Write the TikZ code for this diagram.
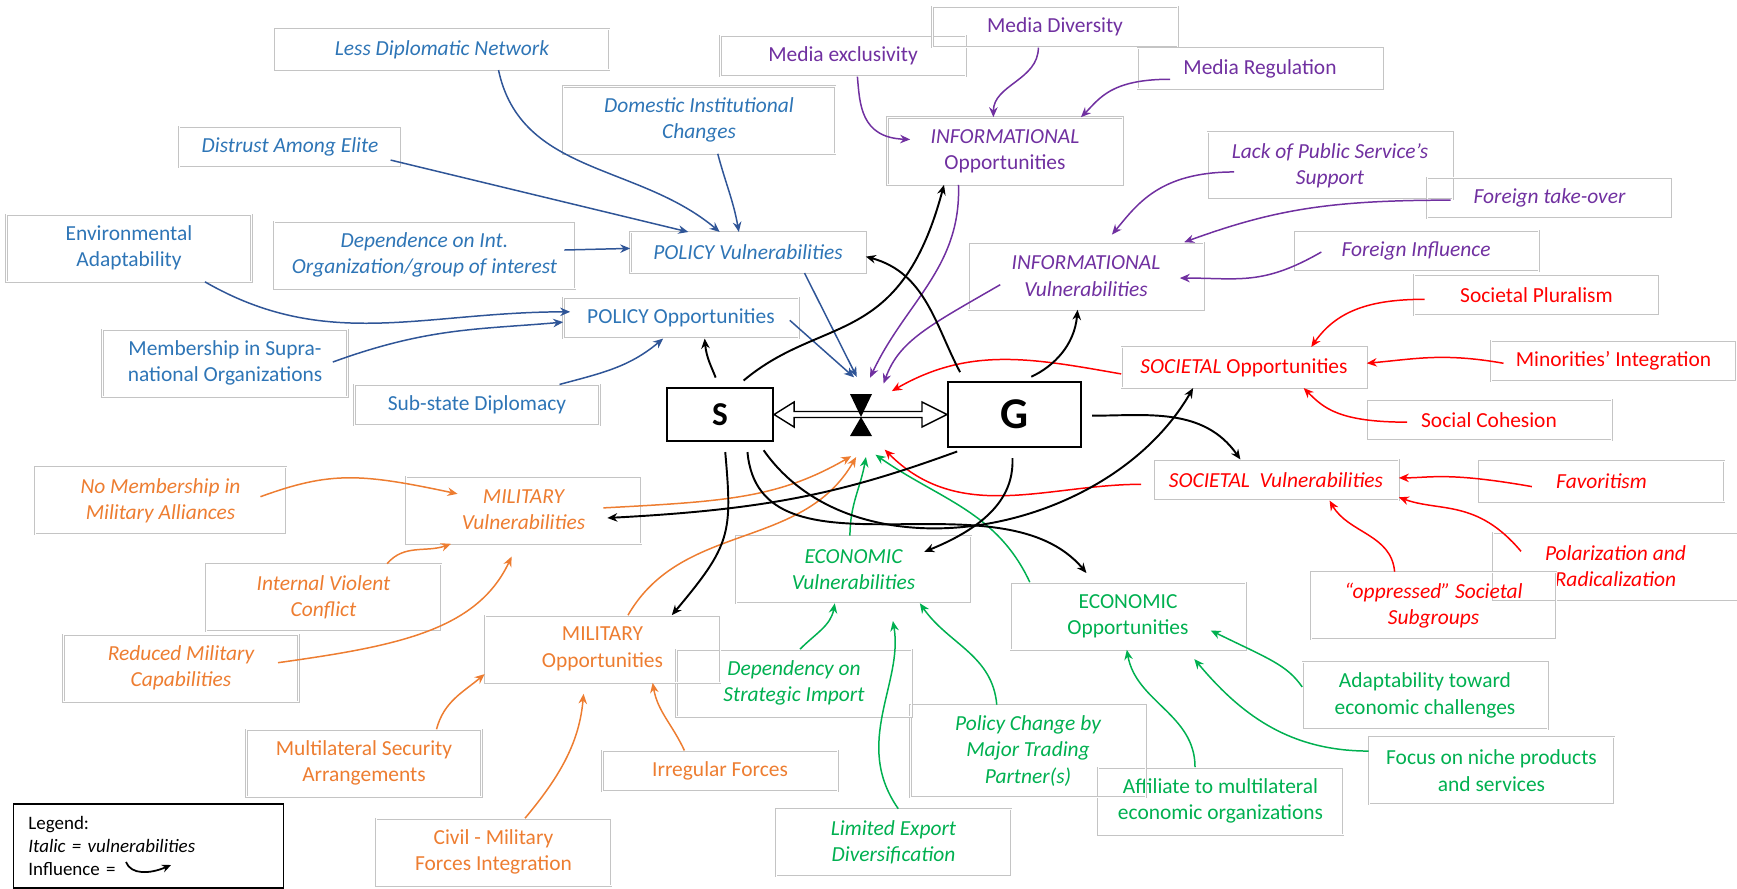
\documentclass[tikz,border=0pt]{standalone}
\usepackage{fontspec}
\setmainfont{Carlito}
\usetikzlibrary{arrows.meta,calc}

\definecolor{boxgray}{HTML}{C4C4C4}
\definecolor{polline}{HTML}{2F5597}
\definecolor{poltext}{HTML}{2E75B6}
\definecolor{infcol}{HTML}{7030A0}
\definecolor{soccol}{HTML}{FF0000}
\definecolor{milcol}{HTML}{ED7D31}
\definecolor{ecocol}{HTML}{00B050}
\newcommand{\diagfont}{\fontsize{12.2}{15}\selectfont}

\begin{document}
\begin{tikzpicture}[x=0.2mm, y=-0.2mm,
  box/.style={draw=boxgray, line width=0.35pt, double=white, double distance=0.45pt, align=center, inner sep=1pt, minimum width=49mm, minimum height=8.1mm, font=\diagfont},
  narrow/.style={minimum width=47mm},
  tall/.style={minimum height=13.4mm},
  vul/.style={font=\diagfont\itshape},
  pol/.style={box, text=poltext},
  inf/.style={box, text=infcol},
  soc/.style={box, text=soccol},
  mil/.style={box, text=milcol},
  eco/.style={box, text=ecocol},
  actor/.style={draw, line width=1.2pt, inner sep=0pt},
  edge/.style={line width=0.85pt, -{Stealth[length=2mm, width=1.7mm]}},
  poledge/.style={edge, color=polline},
  infedge/.style={edge, color=infcol},
  socedge/.style={edge, color=soccol},
  miledge/.style={edge, color=milcol},
  ecoedge/.style={edge, color=ecocol},
  infl/.style={edge, line width=1.1pt, color=black, shorten <=2mm}]
\useasboundingbox (0,0) rectangle (1737,888);

\node[actor, minimum width=21.2mm, minimum height=10.6mm, font=\bfseries\fontsize{19}{19}\selectfont] (S) at (720,414.5) {S};
\node[actor, minimum width=26.6mm, minimum height=13mm, font=\bfseries\fontsize{25}{25}\selectfont] (G) at (1014.5,414.5) {G};
\node[circle, minimum size=16mm, inner sep=0pt] (hg) at (861,417) {};

\node[pol, vul, minimum width=66.8mm] (lessdip) at (442,49.5) {Less Diplomatic Network};
\node[pol, vul, minimum width=44.4mm] (distrust) at (290,147) {Distrust Among Elite};
\node[pol, tall, vul, minimum width=54.4mm] (domestic) at (699,120) {Domestic Institutional\\Changes};
\node[pol, tall, vul, minimum width=60.2mm] (dependence) at (424.5,255) {Dependence on Int.\\Organization/group of interest};
\node[pol, tall] (envadapt) at (129,248) {Environmental\\Adaptability};
\node[pol, tall] (membership) at (225,363) {Membership in Supra-\\national Organizations};
\node[pol] (substate) at (477,405) {Sub-state Diplomacy};
\node[pol, narrow, vul] (policyvul) at (748,252.5) {POLICY Vulnerabilities};
\node[pol, narrow] (policyopp) at (681,318) {POLICY Opportunities};

\node[inf] (mediaexcl) at (843,56) {Media exclusivity};
\node[inf] (mediadiv) at (1055,27) {Media Diversity};
\node[inf] (mediareg) at (1260,68.5) {Media Regulation};
\node[inf, narrow, tall] (infoopp) at (1005,151) {\textit{INFORMATIONAL}\\Opportunities};
\node[inf, narrow, tall, vul] (infovul) at (1086,276) {INFORMATIONAL\\Vulnerabilities};
\node[inf, tall, vul] (lackpub) at (1330,165.5) {Lack of Public Service’s\\Support};
\node[inf, vul] (foreigntake) at (1549.5,198) {Foreign take-over};
\node[inf, vul] (foreigninf) at (1416,251) {Foreign Influence};

\node[soc] (socopp) at (1244,367.5) {\textit{SOCIETAL} Opportunities};
\node[soc, vul] (socvul) at (1276,480) {SOCIETAL~ Vulnerabilities};
\node[soc] (socplur) at (1536.5,295) {Societal Pluralism};
\node[soc] (minorities) at (1613.5,361) {Minorities’ Integration};
\node[soc] (socialcoh) at (1489,420) {Social Cohesion};
\node[soc, vul] (favoritism) at (1601.5,481.5) {Favoritism};
\node[soc, tall, vul] (polarization) at (1615.5,566) {Polarization and\\Radicalization};
\node[soc, tall, vul] (oppressed) at (1433.5,605.5) {“oppressed” Societal\\Subgroups};

\node[eco, narrow, tall] (econopp) at (1128,616) {ECONOMIC\\Opportunities};
\node[eco, narrow, tall, vul] (econvul) at (853.5,569.5) {ECONOMIC\\Vulnerabilities};
\node[eco, tall] (adaptab) at (1425,695.5) {Adaptability toward\\economic challenges};
\node[eco, tall] (focusniche) at (1491.5,770.5) {Focus on niche products\\and services};
\node[eco, tall] (affiliate) at (1220.5,801) {Affiliate to multilateral\\economic organizations};
\node[eco, narrow, vul, minimum height=18.4mm] (policychange) at (1028,751) {Policy Change by\\Major Trading\\Partner(s)};
\node[eco, narrow, tall, vul] (dependency) at (794,683) {Dependency on\\Strategic Import};
\node[eco, narrow, tall, vul] (limited) at (893.5,842.5) {Limited Export\\Diversification};

\node[mil, tall, vul, minimum width=50.2mm] (nomember) at (160.5,500.5) {No Membership in\\Military Alliances};
\node[mil, narrow, tall, vul] (milvul) at (523.5,510) {MILITARY\\Vulnerabilities};
\node[mil, narrow, tall, vul] (internal) at (323.5,597.5) {Internal Violent\\Conflict};
\node[mil, narrow, tall, vul] (reduced) at (181,668) {Reduced Military\\Capabilities};
\node[mil, narrow, tall] (milopp) at (602.5,649) {MILITARY\\Opportunities};
\node[mil, narrow, tall] (multilat) at (364,763) {Multilateral Security\\Arrangements};
\node[mil, narrow, tall] (civil) at (493.5,852) {Civil - Military\\Forces Integration};
\node[mil, narrow] (irregular) at (720,771) {Irregular Forces};

\node[draw, line width=1pt, anchor=north west, minimum width=54mm, minimum height=16.8mm, text width=48mm, inner xsep=2.9mm, align=left, font=\fontsize{10.8}{13}\selectfont] (legend) at (12.5,803) {Legend:\\\textit{Italic = vulnerabilities}\\Influence =};
\draw[line width=1pt, -{Stealth[length=1.8mm, width=1.6mm]}] (126,862) .. controls (131,875) and (150,874) .. (171,865);

\draw[line width=0.8pt, fill=white] (S.east) -- ++(20,-12.5) -- ++(0,9.5) -- ($(G.west)+(-25,-3)$) -- ++(0,-9.5) -- (G.west)
  -- ++(-25,12.5) -- ++(0,-9.5) -- ($(S.east)+(20,3)$) -- ++(0,9.5) -- cycle;
\fill (hg.center) -- ++(-11,-23) -- ++(22,0) -- cycle;
\fill (hg.center) -- ++(-11,19) -- ++(22,0) -- cycle;

\draw[poledge] (lessdip.-20) to[out=-78, in=140] (policyvul.144);
\draw[poledge, shorten <=-2.2mm] (distrust.-8) -- (policyvul.161);
\draw[poledge] (domestic.-61) to[out=-75, in=100] (policyvul.114);
\draw[poledge, shorten <=-2.2mm] (dependence.2) -- (policyvul.178);
\draw[poledge, shorten >=-1.4mm] (envadapt.-24) to[out=-30, in=180] (policyopp.177);
\draw[poledge, shorten <=-3.2mm] (membership.3) to[out=20, in=185] (policyopp.182);
\draw[poledge] (substate.14) to[out=15, in=-140] (policyopp.-131);
\draw[poledge] (policyvul.-20) -- (hg.96);
\draw[poledge, shorten <=-2.4mm] (policyopp.-5) -- (hg.100);

\draw[infedge, shorten >=-4.6mm] (mediaexcl.-55) to[out=-85, in=178] (infoopp.174);
\draw[infedge] (mediadiv.-129) to[out=-90, in=90] (infoopp.109);
\draw[infedge, shorten <=-6.6mm] (mediareg.-175) to[out=180, in=45] (infoopp.24);
\draw[infedge, shorten <=-5.4mm, shorten >=2mm] (lackpub.-177) to[out=180, in=50] (infovul.60);
\draw[infedge, shorten <=-4.8mm] (foreigntake.181) to[out=180, in=20] (infovul.19);
\draw[infedge, shorten <=-6.5mm, shorten >=-4.8mm] (foreigninf.188) to[out=-150, in=0] (infovul.-1);
\draw[infedge] (infoopp.-144) to[out=-88, in=65] (hg.77);
\draw[infedge, shorten <=-7.4mm] (infovul.193) to[out=-150, in=70] (hg.56);

\draw[socedge, shorten <=-2.2mm] (socplur.182) to[out=180, in=55] (socopp.17);
\draw[socedge, shorten <=-2.6mm] (minorities.180) to[out=170, in=5] (socopp.2);
\draw[socedge, shorten <=-8.2mm] (socialcoh.181) to[out=180, in=-45] (socopp.-19);
\draw[socedge, shorten <=-10.8mm] (favoritism.178) to[out=170, in=0] (socvul.1);
\draw[socedge, shorten <=-5mm] (polarization.163) to[out=130, in=-20] (socvul.-8);
\draw[socedge] (oppressed.139) to[out=95, in=-60] (socvul.-21);
\draw[socedge] (socopp.183) to[out=170, in=30] (hg.40);
\draw[socedge, shorten <=2.4mm] (socvul.182) to[out=180, in=-45] (hg.-54);

\draw[miledge, shorten <=-5.5mm, shorten >=-10.6mm] (nomember.6) to[out=20, in=168] (milvul.167);
\draw[miledge] (internal.28) to[out=50, in=-160] (milvul.-155);
\draw[miledge, shorten <=-4.2mm, shorten >=2.8mm] (reduced.4) to[out=8, in=-115] (milvul.-100);
\draw[miledge] (multilat.25) to[out=75, in=-140] (milopp.-168);
\draw[miledge, shorten >=2.2mm] (civil.47) to[out=50, in=-95] (milopp.-118);
\draw[miledge] (irregular.150) to[out=115, in=-80] (milopp.-34);
\draw[miledge, shorten <=-7.6mm] (milvul.2) to[out=3, in=-150] (hg.-104);
\draw[miledge] (milopp.53) to[out=60, in=-120] (hg.-97);

\draw[ecoedge] (dependency.80) to[out=45, in=-100] (econvul.-119);
\draw[ecoedge, shorten >=3.6mm] (limited.82) to[out=125, in=-80] (econvul.-43);
\draw[ecoedge] (policychange.124) to[out=95, in=-55] (econvul.-27);
\draw[ecoedge] (affiliate.127) to[out=90, in=-80] (econopp.-92);
\draw[ecoedge, shorten >=2.4mm] (focusniche.171) to[out=180, in=-50] (econopp.-30);
\draw[ecoedge, shorten >=-7.8mm] (adaptab.176) to[out=125, in=-26] (econopp.-15);
\draw[ecoedge] (econvul.96) to[out=90, in=-100] (hg.-83);
\draw[ecoedge] (econopp.161) to[out=115, in=-35] (hg.-69);

\draw[infl] (S.92) to[out=110, in=-85] (policyopp.-41);
\draw[infl] (S.60) to[out=40, in=-105, in looseness=1.5] (infoopp.-151);
\draw[infl] (S.-36) to[out=-55, in=-120] (socopp.-158);
\draw[infl, shorten >=2.4mm] (S.-46) to[out=-85, in=130] (econopp.135);
\draw[infl] (S.-81) to[out=-85, in=50, looseness=1.3] (milopp.26);
\draw[infl] (G.146) to[out=118, in=-15] (policyvul.-2);
\draw[infl] (G.77) to[out=25, in=-95] (infovul.-104);
\draw[infl] (G.-1) to[out=0, in=125] (socvul.150);
\draw[infl, shorten >=-8.6mm] (G.-94) to[out=-88, in=22] (econvul.17);
\draw[infl, shorten >=-6.8mm] (G.-145) to[out=-160, in=3] (milvul.-3);
\end{tikzpicture}
\end{document}
